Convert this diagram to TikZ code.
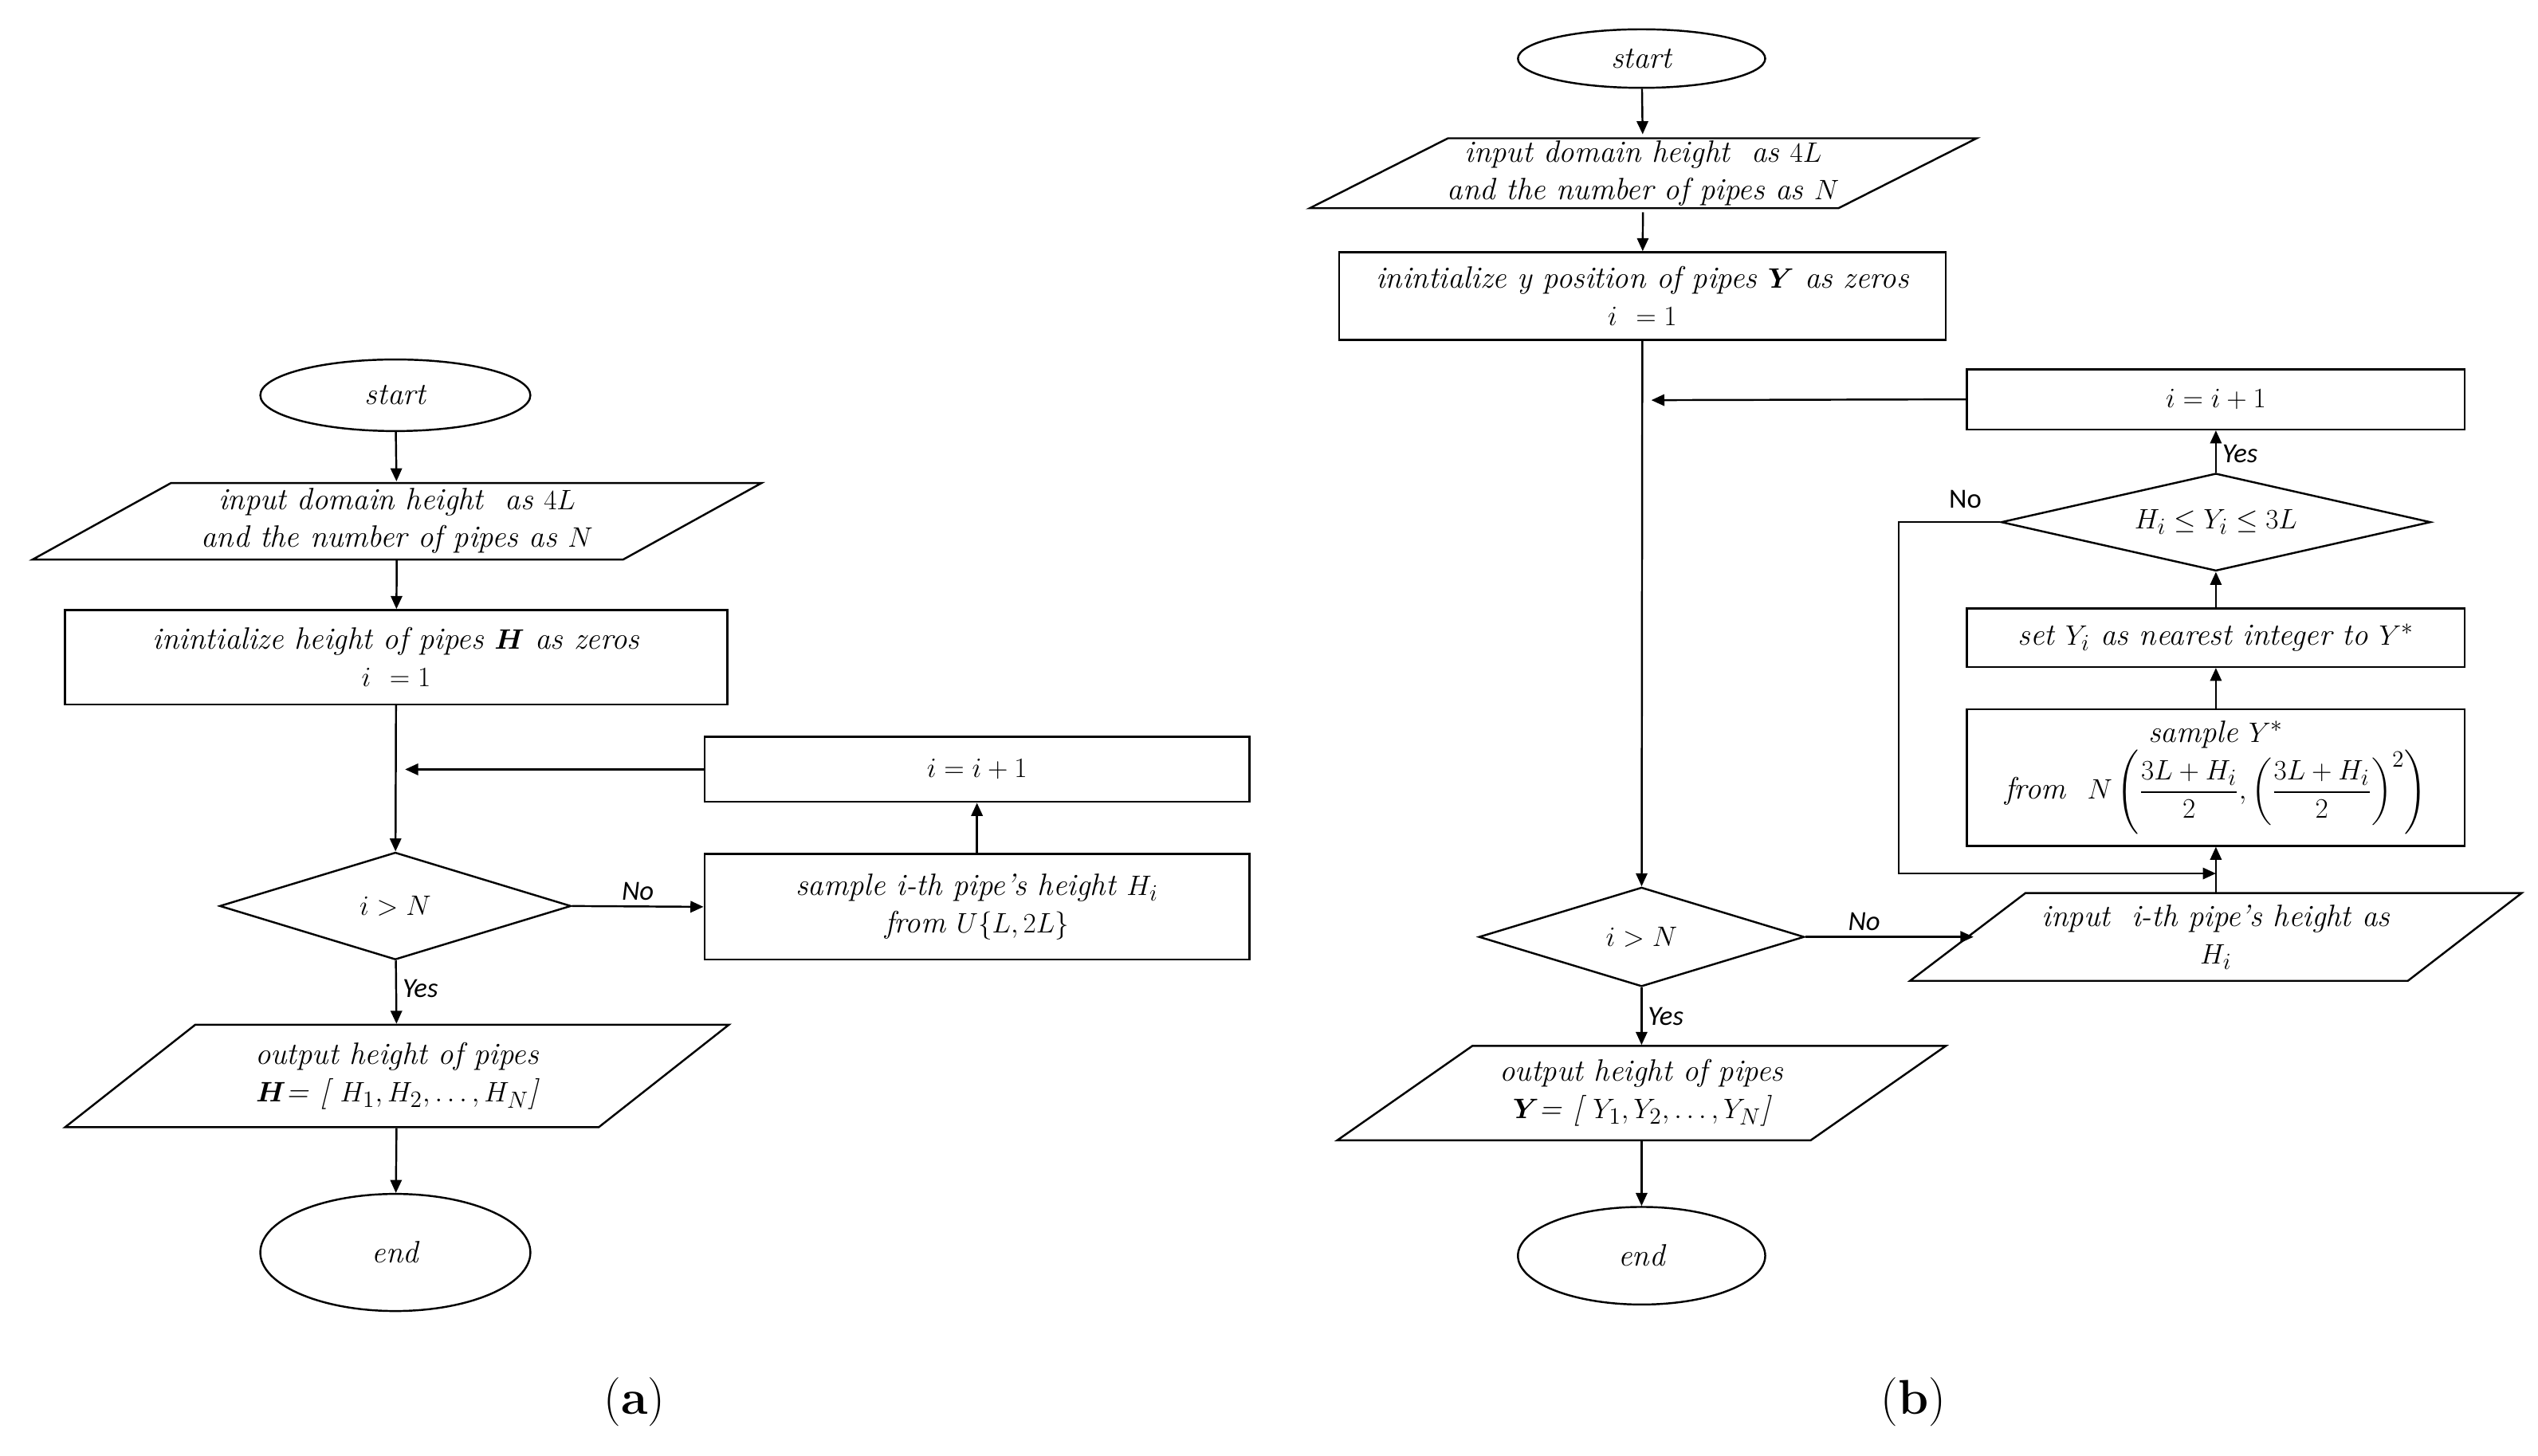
\documentclass[tikz,border=0pt]{standalone}
\usepackage{amsmath}
\usepackage{fontspec}
\newfontfamily\sansf{Carlito}
\usetikzlibrary{shapes.geometric,arrows.meta}
\begin{document}
\begin{tikzpicture}[x=1pt,y=-1pt,line width=1.2pt,
  >={Triangle[length=8pt,width=7pt]},
  txt/.style={font=\fontsize{19}{23}\selectfont\itshape,align=center},
  box/.style={draw,txt,inner sep=0pt},
  oval/.style={draw,ellipse,txt,inner sep=0pt},
  dia/.style={draw,diamond,txt,inner sep=0pt,aspect=3.2},
  lab/.style={font=\fontsize{17}{20}\sansf\itshape},
  lbl/.style={font=\fontsize{30}{34}\selectfont}]
\useasboundingbox (0,0) rectangle (1560,895);
% ---------- left chart ----------
\node[oval,minimum width=166pt,minimum height=44pt] (a1) at (243,243) {start};
\node[txt,minimum width=280pt,minimum height=47pt] (a2) at (244,320) {input domain height\ \ as $4L$\\ and the number of pipes as $N$};
\draw (105,297) -- (468,297) -- (383,344) -- (20,344) -- cycle;
\node[box,minimum width=407pt,minimum height=58pt] (a3) at (243.5,404) {inintialize height of pipes $\boldsymbol{H}$ as zeros\\ $i\ =1$};
\coordinate (am) at (243,473);
\node[dia,minimum width=216pt,minimum height=66pt] (a4) at (243,557) {$i>N$};
\node[box,minimum width=335pt,minimum height=40pt] (a5) at (600.5,473) {$i=i+1$};
\node[box,minimum width=335pt,minimum height=65pt] (a6) at (600.5,557.5) {sample i-th pipe's height $H_i$\\ from $U\{L,2L\}$};
\node[txt,minimum width=260pt,minimum height=63pt] (a7) at (244,661.5) {output height of pipes\\ $\boldsymbol{H}$= [ $H_1,H_2,\dots,H_N$]};
\draw (120,630) -- (448,630) -- (368,693) -- (40,693) -- cycle;
\node[oval,minimum width=166pt,minimum height=72pt] (a8) at (243,770) {end};
\draw[->] (a1) -- (a2);
\draw[->] (a2) -- (a3);
\draw[->] (a3) -- (a4);
\draw[->] (a5.west) -- ([xshift=6pt]am);
\draw[->] (a4.east) -- node[lab,above,pos=0.5]{No} (a6.west);
\draw[->] (a6) -- (a5);
\draw[->] (a4) -- node[lab,right,pos=0.45]{Yes} (a7);
\draw[->] (a7) -- (a8);
\node[lbl] (la) at (390,862) {(\textbf{a})};
% ---------- right chart ----------
\node[oval,minimum width=152pt,minimum height=36pt] (b1) at (1009,36) {start};
\node[txt,minimum width=250pt,minimum height=43pt] (b2) at (1010,106.5) {input domain height\ \ as $4L$\\ and the number of pipes as $N$};
\draw (890,85) -- (1215,85) -- (1130,128) -- (805,128) -- cycle;
\node[box,minimum width=373pt,minimum height=54pt] (b3) at (1009.5,182) {inintialize y position of pipes $\boldsymbol{Y}$ as zeros\\ $i\ =1$};
\coordinate (bm) at (1009,246);
\node[dia,minimum width=200pt,minimum height=61pt] (b4) at (1009,576) {$i>N$};
\node[box,minimum width=306pt,minimum height=37pt] (b5) at (1362,245.5) {$i=i+1$};
\node[dia,minimum width=264pt,minimum height=60pt,aspect=4.4] (b6) at (1362,321) {$H_i\le Y_i\le 3L$};
\node[box,minimum width=306pt,minimum height=36pt] (b7) at (1362,392) {set $Y_i$ as nearest integer to $Y^*$};
\node[box,minimum width=306pt,minimum height=84pt] (b8) at (1362,478) {sample $Y^*$\\ from\ \ $N\left(\dfrac{3L+H_i}{2},\left(\dfrac{3L+H_i}{2}\right)^{2}\right)$};
\node[txt,minimum width=240pt,minimum height=54pt] (b9) at (1362,576) {input\ \ i-th pipe's height as\\ $H_i$};
\draw (1245,549) -- (1550,549) -- (1480,603) -- (1174,603) -- cycle;
\coordinate (b9w) at (1213,576);
\coordinate (bl1) at (1167,321);
\coordinate (bl2) at (1167,537);
\coordinate (bl3) at (1362,537);
\node[txt,minimum width=240pt,minimum height=58pt] (b10) at (1009,672) {output height of pipes\\ $\boldsymbol{Y}$= [ $Y_1,Y_2,\dots,Y_N$]};
\draw (905,643) -- (1196,643) -- (1113,701) -- (822,701) -- cycle;
\node[oval,minimum width=152pt,minimum height=60pt] (b11) at (1009,772) {end};
\draw[->] (b1) -- (b2);
\draw[->] (b2) -- (b3);
\draw[->] (b3) -- (b4);
\draw[->] (b5.west) -- ([xshift=6pt]bm);
\draw[->] (b4.east) -- node[lab,above,pos=0.35]{No} (b9w);
\draw[->] (1362,549) -- (b8.south);
\draw[->] (b8) -- (b7);
\draw[->] (b7) -- (b6);
\draw[->] (b6) -- node[lab,right,pos=0.45]{Yes} (b5);
\draw[->] (b6.west) -- (bl1) -- (bl2) -- (bl3);
\node[font=\fontsize{17}{20}\sansf] at (1208,307) {No};
\draw[->] (b4) -- node[lab,right,pos=0.5]{Yes} (b10);
\draw[->] (b10) -- (b11);
\node[lbl] (lb) at (1176,862) {(\textbf{b})};
\end{tikzpicture}
\end{document}
